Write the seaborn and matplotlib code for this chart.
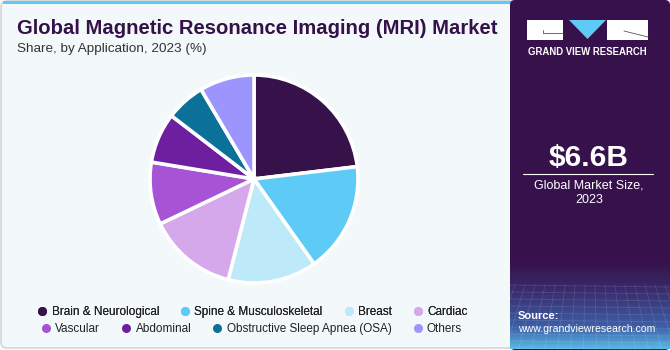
import numpy as np
import matplotlib
matplotlib.use("Agg")
import matplotlib.pyplot as plt
import seaborn as sns
from matplotlib.patches import FancyBboxPatch, Rectangle, Polygon
from matplotlib.lines import Line2D

categories = ["Brain & Neurological", "Spine & Musculoskeletal", "Breast", "Cardiac",
              "Vascular", "Abdominal", "Obstructive Sleep Apnea (OSA)", "Others"]
shares = [23.1, 17.1, 13.8, 13.9, 9.7, 7.8, 6.1, 8.5]
colors = ["#36114A", "#5DCBF5", "#BDE9F9", "#D4A8EB", "#A653D6", "#6E1FA0", "#0B7199", "#9C95FD"]
title = "Global Magnetic Resonance Imaging (MRI) Market"
subtitle = "Share, by Application, 2023 (%)"
market_size = "$6.6B"
market_label = "Global Market Size,\n2023"

sns.set_theme(style="white")
plt.rcParams['font.family'] = ['Liberation Sans', 'DejaVu Sans']
palette = sns.color_palette(colors)

W, H = 670, 350
fig = plt.figure(figsize=(6.7, 3.5), dpi=100)
fig.patch.set_facecolor("white")

bg = fig.add_axes([0, 0, 1, 1])
bg.set_xlim(0, W); bg.set_ylim(H, 0); bg.axis("off")

# left panel
bg.add_patch(FancyBboxPatch((1, 1), 520, H - 3, boxstyle="round,pad=0,rounding_size=6",
                            fc="#F3F8FB", ec="#D3D6D9", lw=1.2))
bg.add_patch(Rectangle((3, 0.5), 512, 3.5, fc="#5DCBF5", ec="none"))

# right panel
bg.add_patch(FancyBboxPatch((510, 0), 160, H, boxstyle="round,pad=0,rounding_size=5",
                            fc="#37114B", ec="none"))
# gradient bottom
grad = np.linspace(0, 1, 100)
c0 = np.array([0x37, 0x11, 0x4B]) / 255
cm = np.array([0x3A, 0x2F, 0x70]) / 255
c1 = np.array([0x3D, 0x5F, 0xA8]) / 255
c2 = np.array([0x5A, 0xB8, 0xE6]) / 255
img = np.zeros((100, 1, 3))
for i, g in enumerate(grad):
    if g < 0.35:
        t = g / 0.35
        img[i, 0] = c0 * (1 - t) + cm * t
    elif g < 0.75:
        t = (g - 0.35) / 0.4
        img[i, 0] = cm * (1 - t) + c1 * t
    else:
        t = (g - 0.75) / 0.25
        img[i, 0] = c1 * (1 - t) + c2 * t
bg.imshow(img, extent=(510, 670, 349, 262), aspect="auto", zorder=1)
for yy in np.arange(285, 350, 7):
    bg.plot([510, 670], [yy, yy + 2], color="white", alpha=0.12, lw=0.6, zorder=2)
for xx in np.arange(505, 680, 10):
    bg.plot([xx, xx + (xx - 590) * 0.3], [285, 349], color="white", alpha=0.12, lw=0.6, zorder=2)

# logo
bg.add_patch(Rectangle((527, 20), 36, 20, fc="white", ec="none", zorder=3))
bg.add_patch(Polygon([[569, 20], [606, 20], [587.5, 39]], closed=True, fc="#5DCBF5", ec="none", zorder=3))
bg.add_patch(Rectangle((607, 20), 41, 20, fc="white", ec="none", zorder=3))
bg.plot([543, 563], [33, 33], color="#555", lw=0.6, zorder=4)
bg.plot([543, 543], [30, 33], color="#555", lw=0.6, zorder=4)
bg.plot([624, 648], [31, 37], color="#555", lw=0.6, zorder=4)
bg.text(587.5, 52, "GRAND VIEW RESEARCH", color="white", fontsize=6.9, fontweight="bold",
        ha="center", va="center", zorder=4)

bg.text(589, 158, market_size, color="white", fontsize=21.5, fontweight="bold",
        ha="center", va="center", zorder=4)
bg.plot([523, 653], [173.5, 173.5], color="white", lw=0.8, zorder=4)
bg.text(589, 193, market_label, color="white", fontsize=9, ha="center", va="center",
        linespacing=1.25, zorder=4)
bg.text(518, 316, "Source:", color="white", fontsize=8, fontweight="bold",
        ha="left", va="center", zorder=4)
bg.text(518, 329, "www.grandviewresearch.com", color="white", fontsize=7.6,
        ha="left", va="center", zorder=4)

# titles
bg.text(17, 29, title, color="#35114A", fontsize=14.6, fontweight="bold", ha="left", va="center")
bg.text(17, 49, subtitle, color="#333333", fontsize=9.7, ha="left", va="center")

# pie
cx, cy, r = 254, 179, 104
pax = fig.add_axes([(cx - r) / W, (H - cy - r) / H, 2 * r / W, 2 * r / H])
pax.pie(shares, colors=palette, startangle=90, counterclock=False,
        wedgeprops=dict(edgecolor="white", linewidth=2.6))
pax.set_xlim(-1, 1); pax.set_ylim(-1, 1)
pax.set_aspect("auto")
pax.axis("off")

# legends
def handles(idx):
    return [Line2D([0], [0], marker="o", linestyle="", markersize=6.5,
                   markerfacecolor=palette[i], markeredgecolor="none", label=categories[i]) for i in idx]

kw = dict(frameon=False, ncol=4, fontsize=8.5, handletextpad=0.3, columnspacing=1.7,
          handlelength=1.0, labelcolor="#222222")
l1 = fig.legend(handles=handles(range(4)), loc="center", bbox_to_anchor=(252 / W, 1 - 312 / H), **kw)
fig.add_artist(l1)
l2 = fig.legend(handles=handles(range(4, 8)), loc="center", bbox_to_anchor=(251 / W, 1 - 329 / H), **kw)

fig.savefig("out.png", dpi=100, facecolor="white")
